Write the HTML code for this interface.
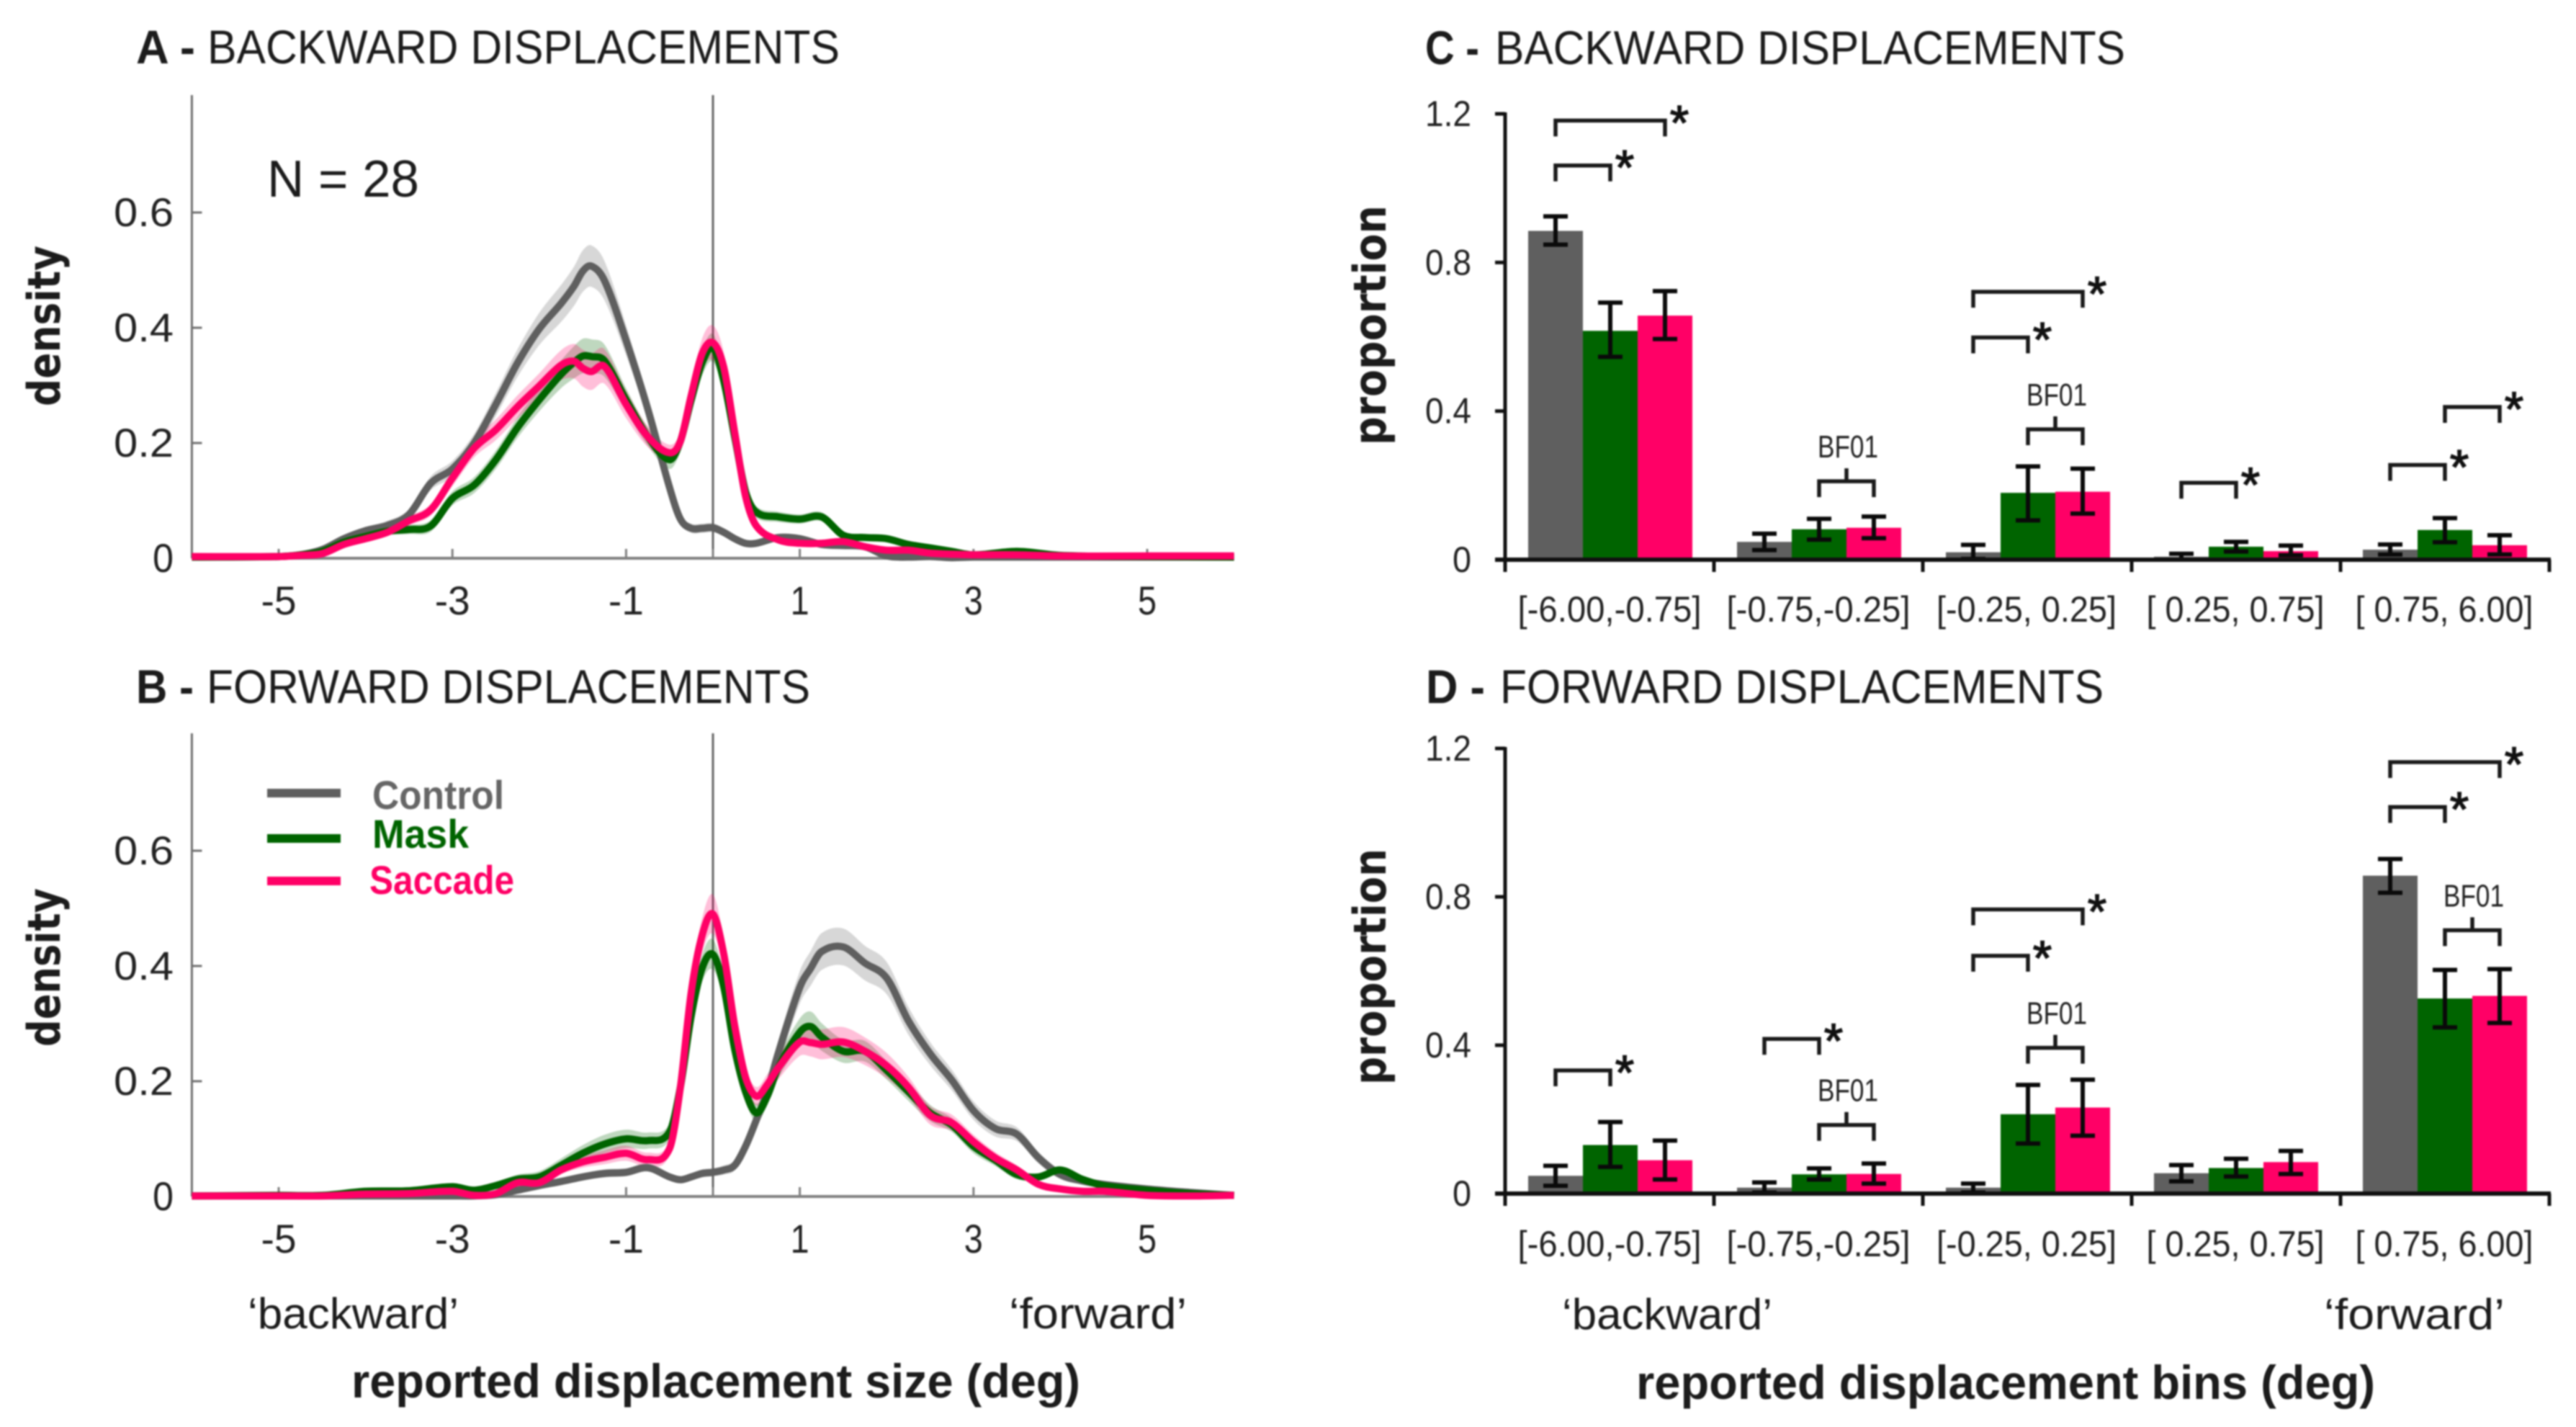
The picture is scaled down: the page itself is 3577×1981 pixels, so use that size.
<!DOCTYPE html>
<html lang="en">
<head>
<meta charset="utf-8">
<title>Displacement density and proportion charts</title>
<style>
html,body{margin:0;padding:0;background:#fff;}
svg{display:block;font-family:"Liberation Sans",sans-serif;filter:blur(1px);}
.t{fill:#1c1c1c;}
.b{font-weight:bold;}
.dj{font-family:"DejaVu Sans","Liberation Sans",sans-serif;font-weight:bold;fill:#1c1c1c;}
</style>
</head>
<body>
<svg id="fig" xmlns="http://www.w3.org/2000/svg" width="3577" height="1981" viewBox="0 0 3577 1981">
<rect x="0" y="0" width="3577" height="1981" fill="#fff"/>

<g>
<text class="t b" x="189" y="88" font-size="66" textLength="82" lengthAdjust="spacingAndGlyphs">A -</text>
<text class="t" x="288" y="88" font-size="66" textLength="878" lengthAdjust="spacingAndGlyphs">BACKWARD DISPLACEMENTS</text>
<text class="t b" x="189" y="976" font-size="66" textLength="80" lengthAdjust="spacingAndGlyphs">B -</text>
<text class="t" x="287" y="976" font-size="66" textLength="838" lengthAdjust="spacingAndGlyphs">FORWARD DISPLACEMENTS</text>
<text class="t b" x="1979" y="89" font-size="66" textLength="75" lengthAdjust="spacingAndGlyphs">C -</text>
<text class="t" x="2076" y="89" font-size="66" textLength="875" lengthAdjust="spacingAndGlyphs">BACKWARD DISPLACEMENTS</text>
<text class="t b" x="1980" y="976" font-size="66" textLength="82" lengthAdjust="spacingAndGlyphs">D -</text>
<text class="t" x="2083" y="976" font-size="66" textLength="838" lengthAdjust="spacingAndGlyphs">FORWARD DISPLACEMENTS</text>
</g>

<text class="t" x="371" y="273" font-size="72" textLength="211" lengthAdjust="spacingAndGlyphs">N = 28</text>

<text class="dj" transform="translate(83,564) rotate(-90)" font-size="62" textLength="223" lengthAdjust="spacingAndGlyphs">density</text>
<text class="dj" transform="translate(83,1453) rotate(-90)" font-size="62" textLength="220" lengthAdjust="spacingAndGlyphs">density</text>
<text class="dj" transform="translate(1924,618) rotate(-90)" font-size="62" textLength="333" lengthAdjust="spacingAndGlyphs">proportion</text>
<text class="dj" transform="translate(1924,1506) rotate(-90)" font-size="62" textLength="328" lengthAdjust="spacingAndGlyphs">proportion</text>

<text class="t" x="344" y="1844" font-size="60" textLength="293" lengthAdjust="spacingAndGlyphs">‘backward’</text>
<text class="t" x="1401" y="1844" font-size="60" textLength="247" lengthAdjust="spacingAndGlyphs">‘forward’</text>
<text class="t" x="2169" y="1845" font-size="60" textLength="292" lengthAdjust="spacingAndGlyphs">‘backward’</text>
<text class="t" x="3227" y="1845" font-size="60" textLength="251" lengthAdjust="spacingAndGlyphs">‘forward’</text>

<text class="t b" x="488" y="1940" font-size="66" textLength="1012" lengthAdjust="spacingAndGlyphs">reported displacement size (deg)</text>
<text class="t b" x="2272" y="1942" font-size="66" textLength="1026" lengthAdjust="spacingAndGlyphs">reported displacement bins (deg)</text>

<g id="plots"></g>

<g>
<g>
<line x1="371" x2="473" y1="1101" y2="1101" stroke="#5f5f5f" stroke-width="12"/>
<text x="517" y="1123" font-size="56" font-weight="bold" fill="#666" textLength="183" lengthAdjust="spacingAndGlyphs">Control</text>
</g>
<g>
<line x1="371" x2="473" y1="1164" y2="1164" stroke="#006400" stroke-width="12"/>
<text x="517" y="1177" font-size="56" font-weight="bold" fill="#006400" textLength="134" lengthAdjust="spacingAndGlyphs">Mask</text>
</g>
<g>
<line x1="371" x2="473" y1="1223" y2="1223" stroke="#ff0066" stroke-width="12"/>
<text x="513" y="1241" font-size="56" font-weight="bold" fill="#ff0066" textLength="201" lengthAdjust="spacingAndGlyphs">Saccade</text>
</g>
</g>
</svg>

<script>
// ---- density panels ----
const xGridA = [-6,-5,-4.75,-4.5,-4.25,-4,-3.75,-3.5,-3.25,-3,-2.75,-2.5,-2.25,-2,-1.75,-1.6,-1.5,-1.4,-1.25,-1,-.75,-.5,-.375,-.25,-.125,0,.125,.25,.375,.5,.75,1,1.25,1.5,1.75,2,2.25,2.5,2.75,3,3.5,4,5,6];
const controlA = [.002,.003,.006,.015,.034,.048,.057,.076,.13,.155,.2,.267,.339,.398,.442,.472,.498,.507,.482,.378,.259,.123,.068,.052,.052,.053,.045,.034,.026,.026,.036,.034,.024,.022,.02,.004,.002,.003,.001,.002,.002,.002,.002,.002];
const controlSemA = [.001,.001,.002,.003,.005,.006,.008,.009,.012,.014,.016,.02,.024,.028,.032,.034,.036,.036,.034,.026,.018,.01,.008,.008,.008,.008,.007,.006,.005,.005,.005,.005,.004,.004,.004,.002,.001,.001,.001,.001,.001,.001,.001,.001];
const maskA = [.002,.003,.006,.012,.028,.038,.047,.05,.056,.104,.127,.171,.227,.275,.319,.34,.351,.35,.343,.275,.211,.171,.203,.275,.339,.365,.307,.211,.116,.08,.072,.068,.072,.04,.036,.034,.024,.018,.012,.006,.012,.005,.003,.002];
const maskSemA = [.001,.001,.002,.003,.005,.006,.007,.008,.01,.012,.014,.016,.018,.02,.024,.028,.03,.03,.028,.02,.016,.016,.018,.02,.022,.024,.02,.016,.012,.01,.009,.008,.008,.006,.006,.006,.005,.004,.003,.002,.003,.002,.001,.001];
const saccadeA = [.003,.003,.005,.008,.024,.034,.045,.065,.084,.139,.191,.223,.263,.299,.335,.342,.33,.324,.333,.267,.211,.183,.203,.283,.355,.374,.331,.219,.108,.056,.032,.026,.026,.029,.02,.014,.014,.009,.007,.006,.006,.004,.004,.004];
const saccadeSemA = [.001,.001,.002,.002,.004,.005,.006,.008,.01,.014,.016,.018,.02,.022,.026,.03,.032,.032,.03,.024,.018,.014,.016,.02,.026,.03,.026,.018,.01,.006,.004,.004,.004,.004,.003,.003,.002,.002,.001,.001,.001,.001,.001,.001];

const xGridB = [-6,-5,-4.5,-4,-3.5,-3,-2.75,-2.5,-2.25,-2,-1.75,-1.5,-1.25,-1,-.75,-.5,-.375,-.25,-.125,0,.125,.25,.375,.5,.625,.75,1,1.125,1.25,1.5,1.75,2,2.25,2.5,2.75,3,3.25,3.5,3.75,4,4.25,4.5,5,5.5,6];
const controlB = [.001,.001,.001,.001,.001,.001,.001,.003,.011,.019,.026,.034,.04,.042,.05,.034,.029,.034,.04,.042,.046,.054,.087,.133,.182,.248,.363,.396,.425,.433,.405,.379,.305,.248,.202,.149,.118,.108,.067,.038,.027,.021,.013,.007,.002];
const controlSemB = [.001,.001,.001,.001,.001,.001,.001,.001,.003,.004,.005,.006,.007,.007,.007,.006,.005,.006,.007,.007,.008,.009,.011,.014,.018,.022,.028,.03,.032,.032,.03,.028,.024,.02,.018,.016,.014,.012,.01,.008,.006,.006,.004,.003,.001];
const maskB = [.001,.002,.002,.009,.01,.017,.011,.019,.03,.034,.054,.075,.091,.1,.097,.112,.19,.314,.396,.42,.363,.256,.182,.145,.174,.223,.285,.295,.277,.252,.252,.219,.182,.145,.124,.087,.063,.038,.034,.046,.03,.019,.011,.005,.002];
const maskSemB = [.001,.001,.002,.003,.003,.004,.004,.006,.008,.01,.012,.014,.016,.016,.014,.014,.016,.02,.024,.026,.022,.018,.016,.016,.016,.018,.024,.026,.024,.02,.018,.016,.016,.014,.012,.012,.01,.008,.006,.006,.005,.004,.003,.002,.001];
const saccadeB = [.001,.001,.001,.004,.005,.009,.002,.005,.024,.024,.046,.06,.068,.075,.064,.083,.19,.355,.453,.49,.42,.297,.207,.174,.194,.223,.268,.267,.264,.268,.252,.227,.19,.141,.128,.095,.067,.046,.021,.013,.009,.009,.002,.001,.002];
const saccadeSemB = [.001,.001,.001,.001,.001,.002,.001,.002,.004,.005,.007,.01,.012,.013,.012,.012,.016,.024,.03,.034,.028,.02,.016,.016,.018,.02,.024,.024,.026,.026,.024,.022,.018,.016,.014,.012,.01,.008,.005,.004,.003,.003,.002,.001,.001];

const densityXTicks = [-5,-3,-1,1,3,5];
const densityYTicks = [0,0.2,0.4,0.6];
const densityYLabels = ['0','0.2','0.4','0.6'];

// ---- bar panels ----
const binLabels = ['[-6.00,-0.75]','[-0.75,-0.25]','[-0.25, 0.25]','[ 0.25, 0.75]','[ 0.75, 6.00]'];
const proportionTicks = [0,0.4,0.8,1.2];
const proportionLabels = ['0','0.4','0.8','1.2'];

const controlC = [.885,.048,.02,.008,.027];
const controlLowC = [.848,.026,.002,0,.014];
const controlHighC = [.924,.07,.04,.016,.041];
const maskC = [.616,.082,.18,.035,.08];
const maskLowC = [.546,.054,.106,.022,.047];
const maskHighC = [.692,.11,.251,.048,.112];
const saccadeC = [.657,.086,.183,.023,.039];
const saccadeLowC = [.594,.058,.124,.012,.014];
const saccadeHighC = [.723,.116,.245,.038,.066];

const controlD = [.048,.016,.016,.055,.857];
const controlLowD = [.021,.003,.003,.033,.811];
const controlHighD = [.075,.03,.027,.077,.902];
const maskD = [.131,.052,.214,.069,.526];
const maskLowD = [.072,.038,.135,.046,.448];
const maskHighD = [.193,.068,.293,.094,.603];
const saccadeD = [.09,.053,.232,.085,.533];
const saccadeLowD = [.038,.027,.156,.053,.46];
const saccadeHighD = [.143,.081,.307,.115,.605];

// annotations: [bin index, first bar, second bar, level on the proportion axis]
const starBracketsC = [[0,0,2,1.182],[0,0,1,1.061],[2,0,2,.721],[2,0,1,.598],[3,0,1,.207],[4,0,1,.255],[4,1,2,.411]];
const bfBracketsC = [[1,1,2,.211],[2,1,2,.351]];
const starBracketsD = [[0,0,1,.332],[1,0,1,.417],[2,0,2,.766],[2,0,1,.641],[4,0,2,1.163],[4,0,1,1.042]];
const bfBracketsD = [[1,1,2,.185],[2,1,2,.393],[4,1,2,.71]];

const COLORS = {control:'#5f5f5f', mask:'#006400', saccade:'#ff0066'};
const NS = 'http://www.w3.org/2000/svg';
const plots = document.getElementById('plots');

function make(tag, attrs, parent, txt) {
  const el = document.createElementNS(NS, tag);
  for (const k in attrs) el.setAttribute(k, attrs[k]);
  if (txt !== undefined) el.textContent = txt;
  parent.appendChild(el);
  return el;
}

function smooth(pts) {
  let d = 'M' + pts[0][0].toFixed(1) + ' ' + pts[0][1].toFixed(1);
  for (let i = 0; i < pts.length - 1; i++) {
    const p0 = pts[Math.max(i - 1, 0)], p1 = pts[i], p2 = pts[i + 1], p3 = pts[Math.min(i + 2, pts.length - 1)];
    const dx = (p2[0] - p1[0]) / 3;
    const m1 = (p2[1] - p0[1]) / ((p2[0] - p0[0]) || 1);
    const m2 = (p3[1] - p1[1]) / ((p3[0] - p1[0]) || 1);
    d += 'C' + (p1[0] + dx).toFixed(1) + ' ' + (p1[1] + m1 * dx).toFixed(1) + ' ' +
         (p2[0] - dx).toFixed(1) + ' ' + (p2[1] - m2 * dx).toFixed(1) + ' ' +
         p2[0].toFixed(1) + ' ' + p2[1].toFixed(1);
  }
  return d;
}

const densityX = v => 990 + v * 120.6;

function densityPanel(zeroY, xs, series) {
  const y = v => zeroY - v * 800;
  const g = make('g', {}, plots);
  
  

  const top = y(0.8);
  const yAxis = make('line', {x1:densityX(-6), x2:densityX(-6), y1:top - 3, y2:zeroY, stroke:'#707070', 'stroke-width':3}, g);
  
  
  const xAxis = make('line', {x1:densityX(-6), x2:densityX(6), y1:zeroY, y2:zeroY, stroke:'#808080', 'stroke-width':4}, g);
  
  
  const zeroLine = make('line', {x1:densityX(0), x2:densityX(0), y1:top - 3, y2:zeroY, stroke:'#666', 'stroke-width':3}, g);
  
  

  densityXTicks.forEach(v => {
    const tick = make('line', {x1:densityX(v), x2:densityX(v), y1:zeroY - 13, y2:zeroY, stroke:'#808080', 'stroke-width':3}, g);
    
    
    const label = make('text', {x:densityX(v), y:zeroY + 78, 'font-size':56, fill:'#222', 'text-anchor':'middle',
      textLength:(String(v).length > 1 ? 49 : 26), lengthAdjust:'spacingAndGlyphs'}, g, String(v));
    
    
  });
  const tick0 = make('line', {x1:densityX(0), x2:densityX(0), y1:zeroY - 13, y2:zeroY, stroke:'#808080', 'stroke-width':3}, g);
  
  

  densityYTicks.forEach((v, i) => {
    const tick = make('line', {x1:densityX(-6), x2:densityX(-6) + 14, y1:y(v), y2:y(v), stroke:'#707070', 'stroke-width':3}, g);
    
    
    const s = densityYLabels[i];
    const label = make('text', {x:241, y:y(v) + 19, 'font-size':56, fill:'#222', 'text-anchor':'end',
      textLength:(s.length > 1 ? 83 : 29), lengthAdjust:'spacingAndGlyphs'}, g, s);
    
    
  });

  series.forEach(s => {
    const upper = xs.map((x, i) => [densityX(x), y(s.values[i] + s.sem[i])]);
    const lower = xs.map((x, i) => [densityX(x), y(Math.max(s.values[i] - s.sem[i], 0))]).reverse();
    const band = make('path', {d:smooth(upper) + 'L' + smooth(lower).slice(1) + 'Z', fill:s.color, 'fill-opacity':0.25, stroke:'none'}, g);
    
    
  });
  series.forEach(s => {
    const pts = xs.map((x, i) => [densityX(x), y(s.values[i])]);
    const line = make('path', {d:smooth(pts), fill:'none', stroke:s.color, 'stroke-width':10, 'stroke-linejoin':'round'}, g);
    
    
  });
}

densityPanel(775, xGridA, [
  {color:COLORS.control, values:controlA, sem:controlSemA},
  {color:COLORS.mask, values:maskA, sem:maskSemA},
  {color:COLORS.saccade, values:saccadeA, sem:saccadeSemA}
]);
densityPanel(1661, xGridB, [
  {color:COLORS.control, values:controlB, sem:controlSemB},
  {color:COLORS.mask, values:maskB, sem:maskSemB},
  {color:COLORS.saccade, values:saccadeB, sem:saccadeSemB}
]);

const AXIS_LEFT = 2090, BIN_W = 290, BAR_W = 76, BAR_OFFSET = 32;
const barLeft = (bin, bar) => AXIS_LEFT + bin * BIN_W + BAR_OFFSET - (bin > 2 ? 1 : 0) + bar * BAR_W;
const barCenter = (bin, bar) => barLeft(bin, bar) + BAR_W / 2;

function barPanel(zeroY, pxPerUnit, labelBaseline, series, stars, bfs) {
  const y = v => zeroY - v * pxPerUnit;
  const g = make('g', {}, plots);
  
  

  series.forEach((s, k) => {
    s.values.forEach((v, bin) => {
      const bar = make('rect', {x:barLeft(bin, k), y:y(v), width:BAR_W, height:zeroY - y(v), fill:s.color}, g);
      
      
    });
  });
  series.forEach((s, k) => {
    s.values.forEach((v, bin) => {
      const cx = barCenter(bin, k), lo = y(s.low[bin]), hi = y(s.high[bin]);
      const err = make('path', {d:'M' + (cx - 17) + ' ' + hi + 'H' + (cx + 17) + 'M' + cx + ' ' + hi + 'V' + lo + 'M' + (cx - 17) + ' ' + lo + 'H' + (cx + 17),
        fill:'none', stroke:'#0a0a0a', 'stroke-width':6}, g);
      
      
    });
  });

  const yAxis = make('line', {x1:AXIS_LEFT, x2:AXIS_LEFT, y1:y(1.2) - 2, y2:zeroY, stroke:'#111', 'stroke-width':5}, g);
  
  
  const xAxis = make('line', {x1:AXIS_LEFT - 14, x2:AXIS_LEFT + 5 * BIN_W + 2, y1:zeroY, y2:zeroY, stroke:'#111', 'stroke-width':6}, g);
  
  

  for (let i = 0; i <= binLabels.length; i++) {
    const tick = make('line', {x1:AXIS_LEFT + i * BIN_W, x2:AXIS_LEFT + i * BIN_W, y1:zeroY, y2:zeroY + 17, stroke:'#111', 'stroke-width':5}, g);
    
    
  }
  binLabels.forEach((s, i) => {
    const label = make('text', {x:AXIS_LEFT + i * BIN_W + 145 - (i > 1 ? 1 : 0), y:labelBaseline, 'font-size':50, fill:'#222', 'text-anchor':'middle',
      textLength:(i < 2 ? 255 : (i === 2 ? 250 : 247)), lengthAdjust:'spacingAndGlyphs', 'xml:space':'preserve'}, g, s);
    
    
  });
  proportionTicks.forEach((v, i) => {
    const tick = make('line', {x1:AXIS_LEFT - 14, x2:AXIS_LEFT, y1:y(v), y2:y(v), stroke:'#111', 'stroke-width':5}, g);
    
    
    const s = proportionLabels[i];
    const label = make('text', {x:2043, y:y(v) + 17, 'font-size':50, fill:'#222', 'text-anchor':'end',
      textLength:(s.length > 1 ? 64 : 26), lengthAdjust:'spacingAndGlyphs'}, g, s);
    
    
  });

  stars.forEach(b => {
    const x1 = barCenter(b[0], b[1]), x2 = barCenter(b[0], b[2]), yy = y(b[3]);
    const br = make('path', {d:'M' + x1 + ' ' + (yy + 22) + 'V' + yy + 'H' + x2 + 'V' + (yy + 22), fill:'none', stroke:'#1a1a1a', 'stroke-width':5.5}, g);
    
    
    const star = make('text', {x:x2 + 20, y:yy + 26, 'font-size':68, fill:'#111', stroke:'#111', 'stroke-width':1.5, 'text-anchor':'middle'}, g, '*');
    
    
  });
  bfs.forEach(b => {
    const x1 = barCenter(b[0], b[1]), x2 = barCenter(b[0], b[2]), yy = y(b[3]), mid = (x1 + x2) / 2;
    const br = make('path', {d:'M' + x1 + ' ' + (yy + 22) + 'V' + yy + 'H' + x2 + 'V' + (yy + 22) + 'M' + mid + ' ' + yy + 'V' + (yy - 18), fill:'none', stroke:'#1a1a1a', 'stroke-width':5.5}, g);
    
    
    const label = make('text', {x:mid + 2, y:yy - 33, 'font-size':44, fill:'#222', 'text-anchor':'middle', textLength:84, lengthAdjust:'spacingAndGlyphs'}, g, 'BF01');
    
    
  });
}

barPanel(777, 515.8, 863, [
  {color:COLORS.control, values:controlC, low:controlLowC, high:controlHighC},
  {color:COLORS.mask, values:maskC, low:maskLowC, high:maskHighC},
  {color:COLORS.saccade, values:saccadeC, low:saccadeLowC, high:saccadeHighC}
], starBracketsC, bfBracketsC);
barPanel(1657, 515, 1744, [
  {color:COLORS.control, values:controlD, low:controlLowD, high:controlHighD},
  {color:COLORS.mask, values:maskD, low:maskLowD, high:maskHighD},
  {color:COLORS.saccade, values:saccadeD, low:saccadeLowD, high:saccadeHighD}
], starBracketsD, bfBracketsD);
</script>
</body>
</html>
